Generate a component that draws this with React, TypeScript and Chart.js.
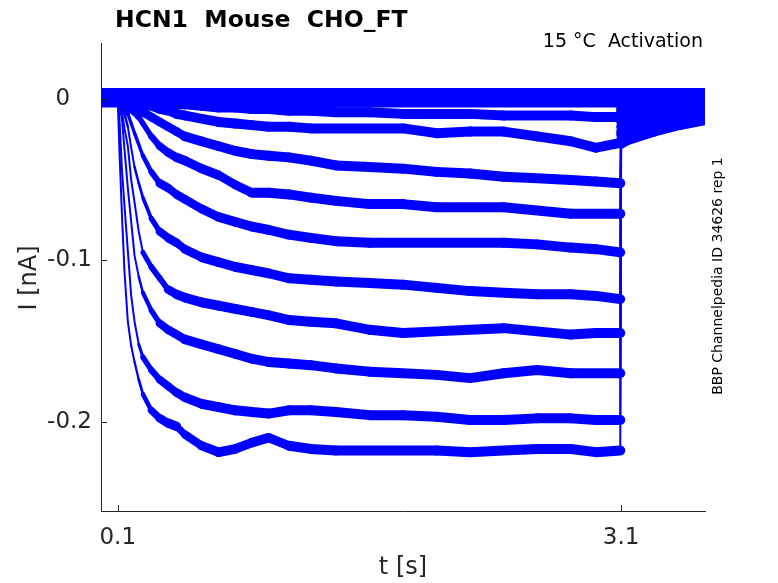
import React, { useEffect, useRef } from "react";
import { Chart, registerables } from "chart.js";

Chart.register(...registerables);

// time base (s)
const timeS = [0, 0.1, 0.11, 0.125, 0.14, 0.16, 0.18, 0.2, 0.225, 0.25, 0.3, 0.35, 0.4, 0.45, 0.5, 0.6, 0.7, 0.8, 0.9, 1.0, 1.12, 1.25, 1.4, 1.6, 1.8, 2.0, 2.2, 2.4, 2.6, 2.8, 2.95, 3.095, 3.1, 3.15, 3.3, 3.45, 3.6];

// current traces (nA), one per voltage step
const traceZeroA = [0.004, 0.004, 0.004, 0.004, 0.004, 0.004, 0.004, 0.004, 0.004, 0.004, 0.004, 0.004, 0.004, 0.004, 0.004, 0.004, 0.004, 0.004, 0.004, 0.004, 0.004, 0.004, 0.004, 0.004, 0.004, 0.004, 0.004, 0.004, 0.004, 0.004, 0.004, 0.004, 0.004, 0.004, 0.004, 0.004, 0.004];
const traceZeroB = [-0.002, -0.002, -0.002, -0.002, -0.002, -0.002, -0.002, -0.002, -0.002, -0.002, -0.002, -0.002, -0.002, -0.002, -0.002, -0.002, -0.002, -0.002, -0.002, -0.002, -0.002, -0.002, -0.002, -0.002, -0.002, -0.002, -0.002, -0.002, -0.002, -0.002, -0.002, -0.002, -0.002, -0.002, -0.002, -0.002, -0.002];
const trace2 = [0, 0, 0, 0, 0, 0, 0, 0, -0.001, -0.001, -0.001, -0.002, -0.002, -0.003, -0.003, -0.004, -0.005, -0.005, -0.006, -0.006, -0.007, -0.007, -0.008, -0.008, -0.009, -0.009, -0.009, -0.01, -0.01, -0.01, -0.011, -0.011, -0.003, -0.003, -0.003, -0.002, -0.002];
const trace3 = [0, 0, 0, 0, 0, -0.001, -0.001, -0.002, -0.002, -0.003, -0.004, -0.006, -0.007, -0.009, -0.01, -0.012, -0.014, -0.015, -0.016, -0.017, -0.017, -0.018, -0.018, -0.018, -0.018, -0.021, -0.02, -0.02, -0.023, -0.026, -0.03, -0.027, -0.006, -0.006, -0.005, -0.004, -0.004];
const trace4 = [0, 0, 0, -0.001, -0.001, -0.002, -0.003, -0.004, -0.006, -0.008, -0.011, -0.014, -0.017, -0.02, -0.023, -0.026, -0.029, -0.032, -0.034, -0.035, -0.036, -0.038, -0.041, -0.042, -0.043, -0.045, -0.046, -0.048, -0.049, -0.05, -0.051, -0.052, -0.008, -0.008, -0.007, -0.006, -0.005];
const trace5 = [0, 0, 0, -0.001, -0.002, -0.004, -0.006, -0.008, -0.011, -0.015, -0.023, -0.029, -0.033, -0.036, -0.038, -0.043, -0.047, -0.053, -0.058, -0.058, -0.059, -0.061, -0.063, -0.065, -0.065, -0.067, -0.067, -0.067, -0.069, -0.071, -0.071, -0.071, -0.011, -0.01, -0.009, -0.007, -0.006];
const trace6 = [0, 0, -0.001, -0.003, -0.005, -0.009, -0.015, -0.021, -0.028, -0.035, -0.045, -0.052, -0.055, -0.059, -0.062, -0.068, -0.073, -0.076, -0.079, -0.081, -0.084, -0.086, -0.088, -0.089, -0.089, -0.089, -0.089, -0.089, -0.09, -0.092, -0.093, -0.095, -0.014, -0.013, -0.011, -0.009, -0.008];
const trace7 = [0, 0, -0.001, -0.004, -0.009, -0.017, -0.03, -0.042, -0.052, -0.061, -0.074, -0.082, -0.086, -0.089, -0.093, -0.098, -0.101, -0.104, -0.106, -0.108, -0.111, -0.112, -0.113, -0.114, -0.115, -0.117, -0.119, -0.12, -0.121, -0.121, -0.122, -0.124, -0.017, -0.016, -0.013, -0.011, -0.009];
const trace8 = [0, 0, -0.002, -0.008, -0.018, -0.029, -0.05, -0.064, -0.082, -0.095, -0.104, -0.111, -0.118, -0.121, -0.123, -0.126, -0.128, -0.13, -0.132, -0.134, -0.137, -0.138, -0.139, -0.143, -0.145, -0.144, -0.143, -0.142, -0.144, -0.146, -0.145, -0.145, -0.02, -0.019, -0.016, -0.012, -0.01];
const trace9 = [0, 0, -0.004, -0.012, -0.031, -0.055, -0.076, -0.097, -0.11, -0.12, -0.131, -0.139, -0.143, -0.146, -0.149, -0.152, -0.155, -0.158, -0.161, -0.163, -0.164, -0.165, -0.167, -0.169, -0.17, -0.171, -0.173, -0.17, -0.168, -0.17, -0.17, -0.17, -0.022, -0.021, -0.017, -0.014, -0.011];
const trace10 = [0, 0, -0.012, -0.044, -0.066, -0.094, -0.122, -0.138, -0.152, -0.16, -0.168, -0.174, -0.178, -0.182, -0.185, -0.189, -0.191, -0.193, -0.194, -0.195, -0.193, -0.193, -0.194, -0.196, -0.196, -0.197, -0.199, -0.199, -0.198, -0.198, -0.199, -0.199, -0.025, -0.023, -0.019, -0.015, -0.012];
const trace11 = [0, 0, -0.032, -0.072, -0.107, -0.138, -0.153, -0.163, -0.174, -0.183, -0.193, -0.198, -0.201, -0.203, -0.208, -0.215, -0.219, -0.217, -0.213, -0.21, -0.215, -0.217, -0.218, -0.218, -0.218, -0.218, -0.219, -0.218, -0.217, -0.217, -0.219, -0.218, -0.028, -0.025, -0.02, -0.016, -0.013];

const allTraces = [traceZeroA, traceZeroB, trace2, trace3, trace4, trace5, trace6, trace7, trace8, trace9, trace10, trace11];

// axis ticks
const xTickValues = [0.1, 3.1];
const yTickValues = [-0.2, -0.1, 0];

// text
const titleText = "HCN1  Mouse  CHO_FT";
const conditionText = "15 °C  Activation";
const sideText = "BBP Channelpedia ID 34626 rep 1";
const xLabelText = "t [s]";
const yLabelText = "I [nA]";

const FONT = "'DejaVu Sans', 'Liberation Sans', sans-serif";
const AXIS_COLOR = "#262626";
const BAND_HEIGHT = 10; // vertical thickness of each trace's noise band, px

const decorPlugin = {
  id: "decor",
  afterDraw(chart: any) {
    const { ctx, chartArea, scales } = chart;
    ctx.save();
    ctx.strokeStyle = AXIS_COLOR;
    ctx.lineWidth = 1;
    // inward ticks
    for (const t of scales.y.ticks) {
      const py = Math.round(scales.y.getPixelForValue(t.value)) + 0.5;
      ctx.beginPath();
      ctx.moveTo(chartArea.left, py);
      ctx.lineTo(chartArea.left + 6, py);
      ctx.stroke();
    }
    for (const t of scales.x.ticks) {
      const px = Math.round(scales.x.getPixelForValue(t.value)) + 0.5;
      ctx.beginPath();
      ctx.moveTo(px, chartArea.bottom);
      ctx.lineTo(px, chartArea.bottom - 6);
      ctx.stroke();
    }
    // title
    ctx.fillStyle = "#000000";
    ctx.font = `bold 23.5px ${FONT}`;
    ctx.textAlign = "left";
    ctx.textBaseline = "alphabetic";
    ctx.fillText(titleText, 115, 27);
    // condition
    ctx.font = `19px ${FONT}`;
    ctx.textAlign = "right";
    ctx.fillText(conditionText, 703, 47);
    // side text
    ctx.save();
    ctx.translate(722, 276);
    ctx.rotate(-Math.PI / 2);
    ctx.font = `14px ${FONT}`;
    ctx.textAlign = "center";
    ctx.fillText(sideText, 0, 0);
    ctx.restore();
    // axis labels
    ctx.fillStyle = AXIS_COLOR;
    ctx.font = `24px ${FONT}`;
    ctx.textAlign = "center";
    ctx.fillText(xLabelText, (chartArea.left + chartArea.right) / 2, 574);
    ctx.save();
    ctx.translate(36, 278);
    ctx.rotate(-Math.PI / 2);
    ctx.fillText(yLabelText, 0, 0);
    ctx.restore();
    ctx.restore();
  },
};

// keep a constant vertical band thickness: thinner stroke on steep segments
const segmentWidth = (c: any) => {
  const dx = c.p1.x - c.p0.x;
  const dy = c.p1.y - c.p0.y;
  const len = Math.hypot(dx, dy) || 1;
  return Math.max(2, (BAND_HEIGHT * Math.abs(dx)) / len);
};

export default function App() {
  const canvasRef = useRef<HTMLCanvasElement | null>(null);

  useEffect(() => {
    const canvas = canvasRef.current;
    if (!canvas) return;
    const datasets = allTraces.map((trace, i) => ({
      label: `trace ${i + 1}`,
      data: timeS.map((t, k) => ({ x: t, y: trace[k] })),
      borderColor: "#0000ff",
      backgroundColor: "#0000ff",
      borderWidth: BAND_HEIGHT,
      pointRadius: 0,
      borderJoinStyle: "round" as const,
      borderCapStyle: "round" as const,
      tension: 0,
      segment: { borderWidth: segmentWidth },
    }));
    const chart = new Chart(canvas, {
      type: "line",
      data: { datasets },
      plugins: [decorPlugin],
      options: {
        animation: false,
        responsive: false,
        devicePixelRatio: 1,
        layout: { padding: { top: 43, right: 73, left: 0, bottom: 0 } },
        plugins: { legend: { display: false }, tooltip: { enabled: false }, title: { display: false } },
        scales: {
          x: {
            type: "linear",
            min: 0,
            max: 3.6,
            afterFit: (s: any) => {
              s.height = 72;
            },
            afterBuildTicks: (s: any) => {
              s.ticks = xTickValues.map((v) => ({ value: v }));
            },
            grid: { display: false, drawTicks: false },
            border: { display: true, color: AXIS_COLOR, width: 1 },
            ticks: {
              padding: 13,
              color: AXIS_COLOR,
              font: { family: FONT, size: 23 },
              maxRotation: 0,
              autoSkip: false,
              callback: (v: any) => String(v),
            },
          },
          y: {
            type: "linear",
            min: -0.2555,
            max: 0.035,
            afterFit: (s: any) => {
              s.width = 101;
            },
            afterBuildTicks: (s: any) => {
              s.ticks = yTickValues.map((v) => ({ value: v }));
            },
            grid: { display: false, drawTicks: false },
            border: { display: true, color: AXIS_COLOR, width: 1 },
            ticks: {
              padding: 9,
              color: AXIS_COLOR,
              font: { family: FONT, size: 23 },
              autoSkip: false,
              callback: (v: any) => (v === 0 ? "0\u2008\u2007" : String(v)),
            },
          },
        },
      },
    });
    return () => chart.destroy();
  }, []);

  return (
    <div style={{ position: "absolute", left: 0, top: 0, width: 778, height: 583, background: "#ffffff" }}>
      <canvas ref={canvasRef} width={778} height={583} style={{ width: 778, height: 583, display: "block" }} />
    </div>
  );
}
